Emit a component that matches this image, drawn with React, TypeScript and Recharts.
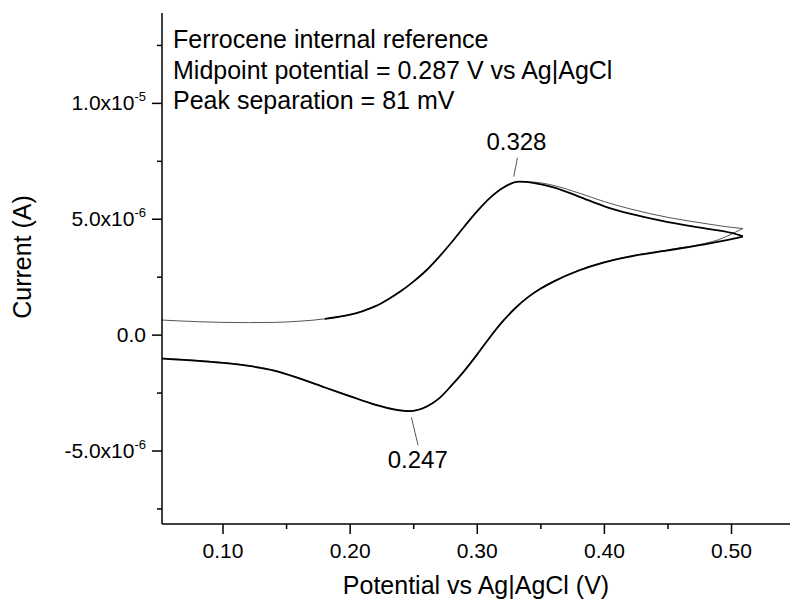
import React from "react";
import {
  LineChart,
  Line,
  XAxis,
  YAxis,
  ReferenceLine,
  ReferenceDot,
} from "recharts";

// Potentials (V) and currents (µA)
const forwardV1 = [0.052, 0.08, 0.1, 0.12, 0.14, 0.16, 0.18, 0.2, 0.21, 0.22, 0.23, 0.24, 0.25, 0.26, 0.27, 0.28, 0.29, 0.3, 0.31, 0.32, 0.333, 0.345, 0.36, 0.38, 0.4, 0.42, 0.45, 0.48, 0.5, 0.509];
const forwardI1 = [0.65, 0.58, 0.55, 0.54, 0.55, 0.6, 0.7, 0.88, 1.04, 1.25, 1.55, 1.9, 2.32, 2.8, 3.38, 4.02, 4.7, 5.35, 5.92, 6.35, 6.62, 6.6, 6.46, 6.13, 5.76, 5.45, 5.08, 4.81, 4.65, 4.6];

const forwardV2 = [0.18, 0.2, 0.21, 0.22, 0.23, 0.24, 0.25, 0.26, 0.27, 0.28, 0.29, 0.3, 0.31, 0.32, 0.333, 0.345, 0.36, 0.38, 0.4, 0.42, 0.45, 0.48, 0.5, 0.509];
const forwardI2 = [0.7, 0.88, 1.04, 1.25, 1.55, 1.9, 2.32, 2.8, 3.38, 4.02, 4.7, 5.35, 5.92, 6.35, 6.62, 6.56, 6.38, 5.98, 5.56, 5.24, 4.88, 4.6, 4.41, 4.26];

const reverseV = [0.052, 0.08, 0.1, 0.12, 0.14, 0.16, 0.18, 0.2, 0.22, 0.235, 0.247, 0.26, 0.27, 0.28, 0.29, 0.3, 0.31, 0.32, 0.33, 0.34, 0.35, 0.36, 0.38, 0.4, 0.42, 0.45, 0.48, 0.49, 0.5, 0.509];
const reverseI1 = [-0.99, -1.09, -1.18, -1.31, -1.51, -1.85, -2.24, -2.62, -2.99, -3.19, -3.26, -3.07, -2.71, -2.14, -1.51, -0.81, -0.07, 0.61, 1.19, 1.66, 2.03, 2.33, 2.81, 3.16, 3.41, 3.68, 3.97, 4.12, 4.36, 4.6];
const reverseI2 = [-1.01, -1.11, -1.2, -1.33, -1.53, -1.87, -2.26, -2.64, -3.01, -3.21, -3.28, -3.09, -2.73, -2.16, -1.53, -0.83, -0.09, 0.59, 1.17, 1.64, 2.01, 2.31, 2.79, 3.14, 3.39, 3.66, 3.93, 4.03, 4.14, 4.25];

const xMajor = [0.1, 0.2, 0.3, 0.4, 0.5];
const xMinor = [0.15, 0.25, 0.35, 0.45];
const xLabels = ["0.10", "0.20", "0.30", "0.40", "0.50"];

const yMajor = [-5e-6, 0, 5e-6, 1e-5];
const yMinor = [-7.5e-6, -2.5e-6, 2.5e-6, 7.5e-6, 1.25e-5];
const yMantissa = ["-5.0x10", "0.0", "5.0x10", "1.0x10"];
const yExponent = ["-6", "", "-6", "-5"];

const notes = [
  "Ferrocene internal reference",
  "Midpoint potential = 0.287 V vs Ag|AgCl",
  "Peak separation = 81 mV",
];

// peak annotations: label, label position, pointer ends
const peaks = [
  { label: "0.328", at: [0.3308, 8.35e-6], from: [0.3287, 6.84e-6], to: [0.3316, 7.65e-6] },
  { label: "0.247", at: [0.2532, -5.35e-6], from: [0.2482, -3.55e-6], to: [0.2534, -4.75e-6] },
];

const toRows = (v: number[], i: number[]) => v.map((x, k) => ({ v: x, i: i[k] * 1e-6 }));

const FONT = '"Liberation Sans", Arial, sans-serif';

const findIdx = (arr: number[], val: number) =>
  arr.findIndex((a) => Math.abs(a - val) < 1e-9);

const XTick = (props: any) => {
  const { x, y, payload } = props;
  const idx = findIdx(xMajor, payload.value);
  const major = idx >= 0;
  return (
    <g>
      <line x1={x} x2={x} y1={y} y2={y + (major ? 10 : 5)} stroke="#000" strokeWidth={1.5} />
      {major && (
        <text x={x} y={y + 34} textAnchor="middle" fontSize={21} fontFamily={FONT} fill="#000">
          {xLabels[idx]}
        </text>
      )}
    </g>
  );
};

const YTick = (props: any) => {
  const { x, y, payload } = props;
  const idx = findIdx(yMajor, payload.value);
  const major = idx >= 0;
  return (
    <g>
      <line x1={x} x2={x - (major ? 10 : 5)} y1={y} y2={y} stroke="#000" strokeWidth={1.5} />
      {major && (
        <text x={x - 16} y={y + 7} textAnchor="end" fontSize={21} fontFamily={FONT} fill="#000">
          <tspan>{yMantissa[idx]}</tspan>
          {yExponent[idx] && (
            <tspan dy={-9} fontSize={13}>
              {yExponent[idx]}
            </tspan>
          )}
        </text>
      )}
    </g>
  );
};

export default function App() {
  return (
    <div style={{ position: "absolute", left: 0, top: 0, width: 790, height: 605, background: "#fff" }}>
      <LineChart width={790} height={605} margin={{ top: 13, right: 0, bottom: 0, left: 0 }}>
        <XAxis
          type="number"
          dataKey="v"
          domain={[0.052, 0.546]}
          allowDataOverflow
          ticks={[...xMajor, ...xMinor]}
          interval={0}
          tick={(p: any) => <XTick {...p} />}
          tickLine={false}
          tickSize={0}
          tickMargin={0}
          height={81}
          axisLine={{ stroke: "#000", strokeWidth: 1.5 }}
        />
        <YAxis
          type="number"
          domain={[-8.15e-6, 13.9e-6]}
          allowDataOverflow
          ticks={[...yMajor, ...yMinor]}
          interval={0}
          tick={(p: any) => <YTick {...p} />}
          tickLine={false}
          tickSize={0}
          tickMargin={0}
          width={162}
          axisLine={{ stroke: "#000", strokeWidth: 1.5 }}
        />
        <Line data={toRows(reverseV, reverseI1)} dataKey="i" type="monotone" stroke="#555" strokeWidth={1} dot={false} isAnimationActive={false} />
        <Line data={toRows(forwardV1, forwardI1)} dataKey="i" type="monotone" stroke="#555" strokeWidth={1} dot={false} isAnimationActive={false} />
        <Line data={toRows(reverseV, reverseI2)} dataKey="i" type="monotone" stroke="#000" strokeWidth={1.8} dot={false} isAnimationActive={false} />
        <Line data={toRows(forwardV2, forwardI2)} dataKey="i" type="monotone" stroke="#000" strokeWidth={1.8} dot={false} isAnimationActive={false} />
        {peaks.map((p) => (
          <ReferenceLine
            key={"l" + p.label}
            segment={[
              { x: p.from[0], y: p.from[1] },
              { x: p.to[0], y: p.to[1] },
            ]}
            stroke="#555"
            strokeWidth={1}
          />
        ))}
        {peaks.map((p) => (
          <ReferenceDot
            key={"d" + p.label}
            x={p.at[0]}
            y={p.at[1]}
            r={0}
            stroke="none"
            fill="none"
            label={{ value: p.label, position: "center", fontSize: 24, fill: "#000", fontFamily: FONT }}
          />
        ))}
      </LineChart>
      <svg width={790} height={605} style={{ position: "absolute", left: 0, top: 0, pointerEvents: "none" }}>
        {notes.map((t, k) => (
          <text key={t} x={173} y={48 + k * 30.5} fontSize={25} fontFamily={FONT} fill="#000">
            {t}
          </text>
        ))}
        <text x={476} y={594} textAnchor="middle" fontSize={25} fontFamily={FONT} fill="#000">
          Potential vs Ag|AgCl (V)
        </text>
        <text x={31} y={257} textAnchor="middle" fontSize={25} fontFamily={FONT} fill="#000" transform="rotate(-90 31 257)">
          Current (A)
        </text>
      </svg>
    </div>
  );
}
